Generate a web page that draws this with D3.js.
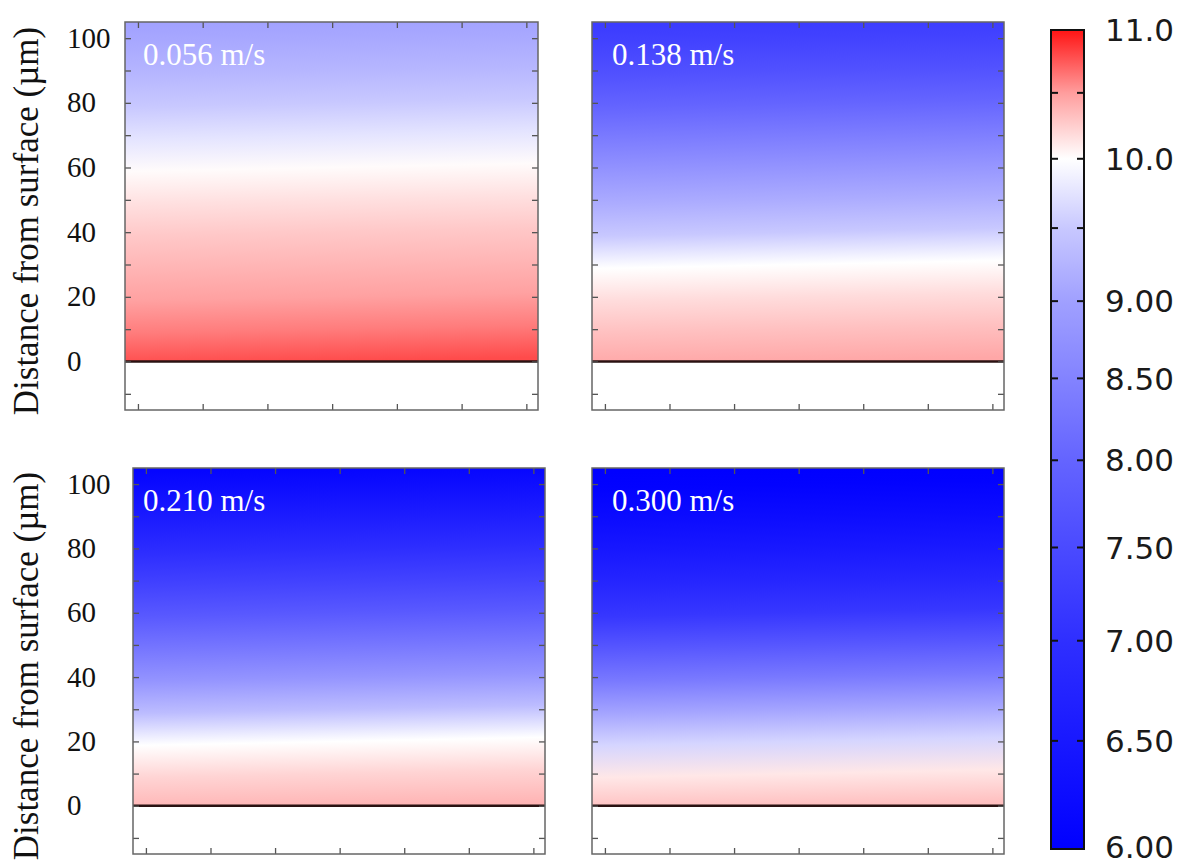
<!DOCTYPE html>
<html>
<head>
<meta charset="utf-8">
<script src="https://cdn.jsdelivr.net/npm/d3@7/dist/d3.min.js"></script>
<style>
	body { margin: 0; background: #fff; }
	svg { display: block; }
</style>
</head>
<body>
<div id="container"></div>
<script>

// depth profiles (value vs distance from surface, um)
var distances = [0, 10, 20, 30, 40, 50, 60, 70, 80, 90, 100, 105];
var speeds = ['0.056 m/s', '0.138 m/s', '0.210 m/s', '0.300 m/s'];
var values056 = [10.80, 10.62, 10.48, 10.38, 10.28, 10.16, 10.02, 9.75, 9.50, 9.28, 9.10, 9.02];
var values138 = [10.45, 10.32, 10.18, 10.00, 9.50, 9.15, 8.80, 8.40, 8.00, 7.65, 7.35, 7.25];
var values210 = [10.38, 10.22, 10.00, 9.35, 8.80, 8.30, 7.80, 7.35, 6.95, 6.60, 6.25, 6.10];
var values300 = [10.32, 10.12, 9.62, 9.05, 8.35, 7.75, 7.15, 6.80, 6.50, 6.25, 6.05, 6.00];

var yTicks = [0, 20, 40, 60, 80, 100];
var yMinorTicks = [-10, 0, 10, 20, 30, 40, 50, 60, 70, 80, 90, 100];
var xTicks = [0, 1, 2, 3, 4, 5, 6];

// colour map (blue - white - red)
var cmapValues = [6, 7, 8, 9, 9.5, 10, 10.5, 11];
var cmapColors = ['#0000ff', '#2f2fff', '#6464ff', '#a0a0ff', '#c8c8ff', '#ffffff', '#ff9d9d', '#ff1414'];
var cbarTicks = [10.5, 10, 9.5, 9, 8.5, 8, 7.5, 7, 6.5];
var cbarLabelValues = [11, 10, 9, 8.5, 8, 7.5, 7, 6.5, 6];
var cbarLabels = ['11.0', '10.0', '9.00', '8.50', '8.00', '7.50', '7.00', '6.50', '6.00'];

var profiles = [values056, values138, values210, values300];

var panels = [
	{x: 125, y: 22, w: 413, h: 388, labelX: 143},
	{x: 592, y: 22, w: 412, h: 388, labelX: 612},
	{x: 133, y: 468, w: 412, h: 386, labelX: 143},
	{x: 592, y: 468, w: 412, h: 386, labelX: 612}
];
var tilt = 0.02;
var serif = '"Liberation Serif", "Times New Roman", serif';

var color = d3.scaleLinear()
	.domain(cmapValues)
	.range(cmapColors)
	.interpolate(d3.interpolateRgb);

var svg = d3.select('div#container')
	.append('svg')
	.attr('width', 1185)
	.attr('height', 865);

var defs = svg.append('defs');

panels.forEach(function(p, i) {
	var y = d3.scaleLinear().domain([-15, 105]).range([p.y + p.h, p.y]);
	var x = d3.scaleLinear().domain([-0.2, 6.18]).range([p.x, p.x + p.w]);
	var cx = p.x + p.w / 2;

	var grad = defs.append('linearGradient')
		.attr('id', 'grad' + i)
		.attr('gradientUnits', 'userSpaceOnUse')
		.attr('x1', cx)
		.attr('y1', y(0))
		.attr('x2', cx - tilt * (y(0) - y(105)))
		.attr('y2', y(105));
	grad.selectAll('stop')
		.data(distances)
		.join('stop')
		.attr('offset', d => d / 105)
		.attr('stop-color', (d, j) => color(profiles[i][j]));

	var g = svg.append('g');

	g.append('rect')
		.attr('x', p.x)
		.attr('y', y(105))
		.attr('width', p.w)
		.attr('height', y(0) - y(105))
		.attr('fill', 'url(#grad' + i + ')');

	// surface line
	g.append('line')
		.attr('x1', p.x)
		.attr('x2', p.x + p.w)
		.attr('y1', y(0))
		.attr('y2', y(0))
		.attr('stroke', '#2a1212')
		.attr('stroke-width', 2.5);

	var axes = [
		[d3.axisLeft(y).tickValues(yMinorTicks), 'translate(' + p.x + ',0)'],
		[d3.axisRight(y).tickValues(yMinorTicks), 'translate(' + (p.x + p.w) + ',0)'],
		[d3.axisTop(x).tickValues(xTicks), 'translate(0,' + p.y + ')'],
		[d3.axisBottom(x).tickValues(xTicks), 'translate(0,' + (p.y + p.h) + ')']
	];
	axes.forEach(function(a) {
		var ax = g.append('g')
			.attr('transform', a[1])
			.call(a[0].tickSizeInner(-6).tickSizeOuter(0).tickFormat(''));
		ax.select('.domain').remove();
		ax.selectAll('line').attr('stroke', '#555').attr('stroke-width', 1.3);
	});

	g.append('rect')
		.attr('x', p.x)
		.attr('y', p.y)
		.attr('width', p.w)
		.attr('height', p.h)
		.attr('fill', 'none')
		.attr('stroke', '#666')
		.attr('stroke-width', 1.5);

	g.append('text')
		.text(speeds[i])
		.attr('x', p.labelX)
		.attr('y', p.y + 43)
		.attr('fill', '#fff')
		.attr('font-family', serif)
		.attr('font-size', '31px');

	if (i % 2 == 0) {
		g.selectAll('text.ylab')
			.data(yTicks)
			.join('text')
			.attr('class', 'ylab')
			.attr('x', 67)
			.attr('y', d => y(d))
			.attr('dy', '0.33em')
			.attr('font-family', serif)
			.attr('font-size', '29px')
			.attr('fill', '#111')
			.text(d => d);

		g.append('text')
			.attr('transform', 'translate(38,' + (p.y + p.h / 2 + 5) + ') rotate(-90)')
			.attr('text-anchor', 'middle')
			.attr('font-family', serif)
			.attr('font-size', '35px')
			.attr('fill', '#111')
			.text('Distance from surface (\u00b5m)');
	}
});

// colour bar, log scaled
var cb = {x: 1051, y: 30, w: 33, h: 819};
var cy = d3.scaleLog().domain([6, 11]).range([cb.y + cb.h, cb.y]);

var cgrad = defs.append('linearGradient')
	.attr('id', 'cbar')
	.attr('gradientUnits', 'userSpaceOnUse')
	.attr('x1', 0).attr('x2', 0)
	.attr('y1', cy(6)).attr('y2', cy(11));
cgrad.selectAll('stop')
	.data(cmapValues)
	.join('stop')
	.attr('offset', d => (cy(6) - cy(d)) / cb.h)
	.attr('stop-color', d => color(d));

var cbG = svg.append('g');
cbG.append('rect')
	.attr('x', cb.x)
	.attr('y', cb.y)
	.attr('width', cb.w)
	.attr('height', cb.h)
	.attr('fill', 'url(#cbar)')
	.attr('stroke', '#111')
	.attr('stroke-width', 2);

cbG.selectAll('line.lt')
	.data(cbarTicks)
	.join('line')
	.attr('class', 'lt')
	.attr('x1', cb.x).attr('x2', cb.x + 7)
	.attr('y1', d => cy(d)).attr('y2', d => cy(d))
	.attr('stroke', '#111').attr('stroke-width', 2);
cbG.selectAll('line.rt')
	.data(cbarTicks)
	.join('line')
	.attr('class', 'rt')
	.attr('x1', cb.x + cb.w - 7).attr('x2', cb.x + cb.w)
	.attr('y1', d => cy(d)).attr('y2', d => cy(d))
	.attr('stroke', '#111').attr('stroke-width', 2);

cbG.selectAll('text')
	.data(cbarLabelValues)
	.join('text')
	.attr('x', 1105)
	.attr('y', d => cy(d))
	.attr('dy', d => d == 6 ? '0.28em' : '0.36em')
	.attr('font-family', '"DejaVu Sans", sans-serif')
	.attr('font-size', '31px')
	.attr('fill', '#1a1a1a')
	.text((d, i) => cbarLabels[i]);

</script>
</body>
</html>
